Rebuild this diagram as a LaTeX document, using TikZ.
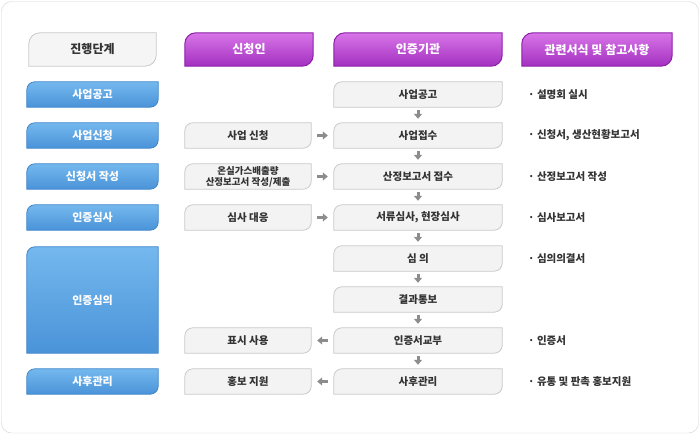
\documentclass[tikz,border=0pt]{standalone}
\usepackage{fontspec}
\setmainfont{Noto Sans CJK KR}
\usetikzlibrary{arrows.meta, backgrounds}

\definecolor{frameline}{HTML}{D2D2D2}
\definecolor{boxfill}{HTML}{F3F3F3}
\definecolor{boxline}{HTML}{C9C9C9}
\definecolor{bluetop}{HTML}{74B8EE}
\definecolor{bluebot}{HTML}{4A93D8}
\definecolor{blueline}{HTML}{3D85CC}
\definecolor{purptop}{HTML}{D875E8}
\definecolor{purpbot}{HTML}{A330C0}
\definecolor{purpline}{HTML}{8E1FA8}
\definecolor{arrowgray}{HTML}{8C8C8C}
\definecolor{textgray}{HTML}{333333}

% box with rounded top-left and bottom-right corners
\newcommand{\tabpath}[2]{(#1.south west) -- ([yshift=-#2]#1.north west) arc[start angle=180,end angle=90,radius=#2] -- (#1.north east) -- ([yshift=#2]#1.south east) arc[start angle=0,end angle=-90,radius=#2] -- cycle}

\tikzset{
  head/.style={minimum height=33pt, inner sep=0pt, font=\fontsize{12}{14}\selectfont\bfseries, text=white},
  stage/.style={minimum width=131pt, minimum height=25pt, inner sep=0pt, font=\fontsize{11}{13}\selectfont\bfseries, text=white},
  task/.style={minimum height=25pt, inner sep=0pt, align=center, font=\fontsize{10.5}{12}\selectfont\bfseries, text=textgray},
  note/.style={anchor=west, inner sep=0pt, font=\fontsize{10.5}{12}\selectfont\bfseries, text=textgray},
  bluebox/.style={top color=bluetop, bottom color=bluebot, draw=blueline, line width=0.8pt},
  purpbox/.style={top color=purptop, bottom color=purpbot, draw=purpline, line width=1pt},
  graybox/.style={fill=boxfill, draw=boxline, line width=0.8pt},
  flow/.style={-{Triangle[width=8pt,length=5pt]}, line width=3pt, arrowgray}
}

\begin{document}
\begin{tikzpicture}[x=1pt, y=-1pt]
  \useasboundingbox (0,0) rectangle (700,435);
  \draw[frameline, rounded corners=10pt] (1.5,1.5) rectangle (698.5,433);

  % Column heads
  \node[head, minimum width=127pt, text=textgray] (hstage) at (92.5,49.5) {진행단계};
  \node[head, minimum width=128pt] (happ) at (249,49.5) {신청인};
  \node[head, minimum width=168pt] (hag) at (418,49.5) {인증기관};
  \node[head, minimum width=150pt] (hnote) at (597,49.5) {관련서식 및 참고사항};
  \begin{pgfonlayer}{background}
    \path[graybox, fill=boxfill!80!white] \tabpath{hstage}{11pt};
    \path[purpbox] \tabpath{happ}{11pt};
    \path[purpbox] \tabpath{hag}{11pt};
    \path[purpbox] \tabpath{hnote}{11pt};
  \end{pgfonlayer}

  % Stages
  \foreach \i/\t in {0/사업공고,1/사업신청,2/{신청서 작성},3/인증심사,7/사후관리} {
    \node[stage] (st\i) at (92.5,94.5+41*\i) {\t};
    \begin{pgfonlayer}{background}
      \path[bluebox] \tabpath{st\i}{8pt};
    \end{pgfonlayer}
  }
  \node[stage, minimum height=106pt] (st4) at (92.5,300) {인증심의};
  \begin{pgfonlayer}{background}
    \path[bluebox] (st4.south west) -- ([yshift=-8pt]st4.north west) arc[start angle=180,end angle=90,radius=8pt] -- (st4.north east) -- (st4.south east) -- cycle;
  \end{pgfonlayer}

  % Certification body
  \foreach \i/\t in {0/사업공고,1/사업접수,2/{산정보고서 접수},3/{서류심사, 현장심사},4/{심 의},5/결과통보,6/인증서교부,7/사후관리} {
    \node[task, minimum width=168pt] (ag\i) at (418,94.5+41*\i) {\t};
    \begin{pgfonlayer}{background}
      \path[graybox] \tabpath{ag\i}{8pt};
    \end{pgfonlayer}
  }
  \foreach \i [count=\j from 1] in {0,...,6}
    \draw[flow, shorten <=3pt, shorten >=4pt] (ag\i.south) -- (ag\j.north);

  % Applicant
  \node[task, minimum width=126pt] (ap1) at (248,135.5) {사업 신청};
  \node[task, minimum width=126pt, font=\fontsize{9.5}{11}\selectfont\bfseries] (ap2) at (248,176.5) {온실가스배출량\\산정보고서 작성/제출};
  \node[task, minimum width=126pt] (ap3) at (248,217.5) {심사 대응};
  \node[task, minimum width=126pt] (ap6) at (248,340.5) {표시 사용};
  \node[task, minimum width=126pt] (ap7) at (248,381.5) {홍보 지원};
  \begin{pgfonlayer}{background}
    \foreach \i in {1,2,3,6,7}
      \path[graybox] \tabpath{ap\i}{8pt};
  \end{pgfonlayer}
  \foreach \i in {1,2,3}
    \draw[flow, shorten <=6pt, shorten >=6pt] (ap\i.east) -- (ag\i.west);
  \foreach \i in {6,7}
    \draw[flow, shorten <=6pt, shorten >=6pt] (ag\i.west) -- (ap\i.east);

  % Notes
  \foreach \i/\t in {0/{설명회 실시},1/{신청서, 생산현황보고서},2/{산정보고서 작성},3/심사보고서,4/심의의결서,6/인증서,7/{유통 및 판촉 홍보지원}}
    \node[note] (nt\i) at (528,94.5+41*\i) {· \t};
\end{tikzpicture}
\end{document}
